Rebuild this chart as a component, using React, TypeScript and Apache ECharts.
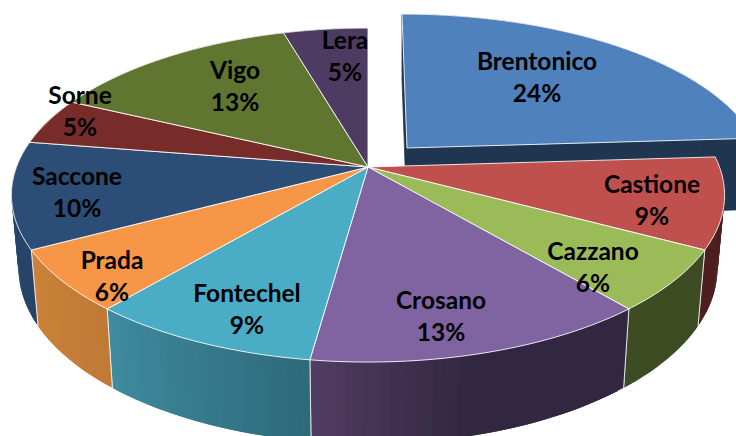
import React, { useEffect, useRef } from "react";
import * as echarts from "echarts";

const categories = ["Brentonico", "Castione", "Cazzano", "Crosano", "Fontechel", "Prada", "Saccone", "Sorne", "Vigo", "Lera"];
const shares = [24.0, 8.8, 6.0, 13.4, 9.0, 6.0, 10.3, 4.55, 13.45, 4.5];
const explodedFlags = [true, false, false, false, false, false, false, false, false, false];
const topColors = ["#4f81bd", "#c0504d", "#9bbb59", "#8064a2", "#4bacc6", "#f79646", "#2c4d75", "#772c2a", "#5f7530", "#4d3b62"];
const wallColors: [string, string][] = [
  ["#1f3550", "#1f3550"],
  ["#4d1f1e", "#4d1f1e"],
  ["#3e4c24", "#3e4c24"],
  ["#503c62", "#322740"],
  ["#3f8ba0", "#2e6a7a"],
  ["#cc8239", "#bf7a35"],
  ["#284468", "#284468"],
  ["#4d1f1e", "#4d1f1e"],
  ["#3e4c24", "#3e4c24"],
  ["#322740", "#322740"],
];
const wallRamp = [1, 1, 1, 2.2, 1, 1, 1, 1, 1, 1];
const labelAnchors: [number, number][] = [
  [537, 76], [652, 199], [593, 266], [441, 315], [247, 308],
  [112, 275], [77, 191], [80, 110], [235, 85], [345, 55],
];

const CX = 368, CY = 167, RX = 351.5, RY = 162.3, K = 0.168;
const total = shares.reduce((a, b) => a + b, 0);
const STEPS = 40;

function pt(theta: number, r: number, exploded: boolean, bottom: boolean): number[] {
  const s = Math.sin(theta), c = Math.cos(theta);
  const w = 1 + K * c * r;
  const X = (RX * r * s) / w;
  const Y = (-RY * r * c) / w;
  let sx = CX + X, sy = CY + Y;
  if (bottom) {
    const depth = 76 + (sy - 250) * 0.05;
    sx = CX + X * 0.98;
    sy += depth;
  }
  if (exploded) {
    sx += 39 - 5 * r * c;
    sy += -19 + 5 * r * c;
  }
  return [sx, sy];
}

function angles(i: number): [number, number] {
  let before = 0;
  for (let k = 0; k < i; k++) before += shares[k];
  return [(before / total) * Math.PI * 2, ((before + shares[i]) / total) * Math.PI * 2];
}

function arc(a0: number, a1: number, ex: boolean, bottom: boolean): number[][] {
  const out: number[][] = [];
  for (let n = 0; n <= STEPS; n++) out.push(pt(a0 + ((a1 - a0) * n) / STEPS, 1, ex, bottom));
  return out;
}

function mix(c0: string, c1: string, t: number): string {
  const p = (c: string, o: number) => parseInt(c.slice(o, o + 2), 16);
  const ch = (o: number) => Math.round(p(c0, o) + (p(c1, o) - p(c0, o)) * t);
  return `rgb(${ch(1)},${ch(3)},${ch(5)})`;
}

const edge = { stroke: "rgba(255,255,255,0.85)", lineWidth: 1, lineJoin: "round" };

export default function App() {
  const ref = useRef<HTMLDivElement>(null);
  useEffect(() => {
    const chart = echarts.init(ref.current!, null, { renderer: "svg" });
    const data = shares.map((v, i) => ({ name: categories[i], value: v }));
    chart.setOption({
      animation: false,
      backgroundColor: "#ffffff",
      series: [
        {
          type: "custom",
          coordinateSystem: "none",
          z: 1,
          silent: true,
          data,
          renderItem: (p: any) => {
            const i = p.dataIndex;
            const [a0, a1] = angles(i);
            const ex = explodedFlags[i];
            const children: any[] = [];
            if (ex) {
              for (const a of [a0, a1]) {
                children.push({
                  type: "polygon",
                  shape: { points: [pt(a, 0, true, false), pt(a, 1, true, false), pt(a, 1, true, true), pt(a, 0, true, true)] },
                  style: { fill: wallColors[i][0], stroke: wallColors[i][0], lineWidth: 0.8 },
                });
              }
            }
            const top = arc(a0, a1, ex, false);
            const bot = arc(a0, a1, ex, true);
            const leftToRight = top[0][0] < top[STEPS][0];
            for (let n = 0; n < STEPS; n++) {
              // shading runs from the screen-left colour to the screen-right one;
              // every strip overlaps the next so no background shows in the seams
              const t = leftToRight ? n / (STEPS - 1) : 1 - n / (STEPS - 1);
              const col = mix(wallColors[i][0], wallColors[i][1], Math.min(1, t * wallRamp[i]));
              const m = Math.min(n + 2, STEPS);
              children.push({
                type: "polygon",
                shape: { points: [top[n], top[m], bot[m], bot[n]] },
                style: { fill: col },
              });
            }
            if (!ex) {
              for (const a of [a0, a1]) {
                children.push({
                  type: "line",
                  shape: {
                    x1: pt(a, 1, false, false)[0], y1: pt(a, 1, false, false)[1],
                    x2: pt(a, 1, false, true)[0], y2: pt(a, 1, false, true)[1],
                  },
                  style: { stroke: "rgba(255,255,255,0.75)", lineWidth: 1 },
                });
              }
            }
            return { type: "group", children };
          },
        },
        {
          type: "custom",
          coordinateSystem: "none",
          z: 2,
          silent: true,
          data,
          renderItem: (p: any) => {
            const i = p.dataIndex;
            const [a0, a1] = angles(i);
            const ex = explodedFlags[i];
            return {
              type: "polygon",
              shape: { points: [pt(0, 0, ex, false), ...arc(a0, a1, ex, false)] },
              style: { fill: topColors[i], ...edge },
            };
          },
        },
        {
          type: "custom",
          coordinateSystem: "none",
          z: 3,
          silent: true,
          data,
          renderItem: (p: any, api: any) => {
            const i = p.dataIndex;
            return {
              type: "text",
              x: labelAnchors[i][0],
              y: labelAnchors[i][1],
              style: {
                text: `${categories[i]}\n${Math.round(api.value(0))}%`,
                fill: "#000000",
                font: 'bold 24.5px Lato, "Open Sans", sans-serif',
                lineHeight: 32,
                align: "center",
                verticalAlign: "middle",
              },
            };
          },
        },
      ],
    });
    return () => chart.dispose();
  }, []);
  return (
    <div
      ref={ref}
      style={{ position: "absolute", left: 0, top: 0, width: 736, height: 436, overflow: "hidden" }}
    />
  );
}
